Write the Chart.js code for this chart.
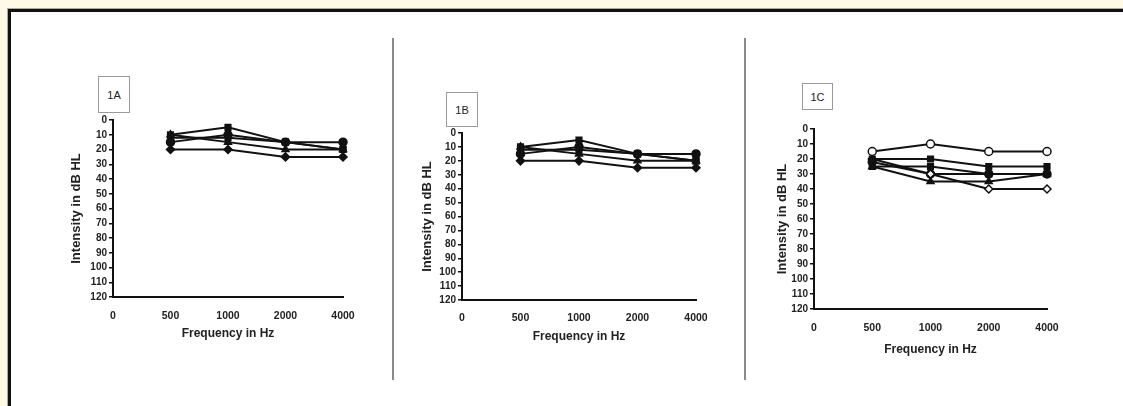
<!DOCTYPE html>
<html><head><meta charset="utf-8">
<script src="https://cdn.jsdelivr.net/npm/chart.js@4"></script>
<style>
html,body{margin:0;padding:0;width:1123px;height:406px;overflow:hidden;background:#fffae6;}
#frame{position:absolute;left:8px;top:9px;width:1200px;height:500px;background:#fff;border-left:3px solid #111;border-top:3px solid #111;box-shadow:-1px -1px 0 #aaa;}
.sep{position:absolute;width:2px;background:#8a8a8a;top:38px;height:342px;}
.lbl{position:absolute;border:1px solid #9a9a9a;background:#fff;font:11px "Liberation Sans",Arial,sans-serif;color:#222;display:flex;align-items:center;justify-content:center;box-sizing:border-box;}
canvas{position:absolute;}
</style></head>
<body>
<div id="frame"></div>
<div class="sep" style="left:392px"></div>
<div class="sep" style="left:744px"></div>
<canvas id="cA"></canvas>
<canvas id="cB"></canvas>
<canvas id="cC"></canvas>
<div class="lbl" style="left:98px;top:76px;width:32px;height:37px">1A</div>
<div class="lbl" style="left:446px;top:92px;width:32px;height:35px">1B</div>
<div class="lbl" style="left:802px;top:83px;width:31px;height:27px">1C</div>
<script>
// ---- data ----
const frequencies = ['500', '1000', '2000', '4000'];
const xTickLabels = ['0', '500', '1000', '2000', '4000'];

const a1 = [10, 5, 15, 20];
const a2 = [15, 10, 15, 15];
const a3 = [10, 15, 20, 20];
const a4 = [20, 20, 25, 25];
const a5 = [12, 12, 15, 20];

const b1 = [10, 5, 15, 20];
const b2 = [15, 10, 15, 15];
const b3 = [10, 15, 20, 20];
const b4 = [20, 20, 25, 25];
const b5 = [12, 12, 15, 20];

const c1 = [15, 10, 15, 15];
const c2 = [20, 20, 25, 25];
const c3 = [25, 25, 30, 30];
const c4 = [20, 30, 40, 40];
const c5 = [25, 35, 35, 30];
const c6 = [22, 30, 30, 30];

const FAM = '"Liberation Sans", Arial, sans-serif';

function ds(values, style, open) {
  return {
    data: frequencies.map((f, i) => ({x: f, y: values[i]})),
    borderColor: '#111', borderWidth: 2, tension: 0, fill: false,
    pointStyle: style, pointRadius: 4,
    pointBackgroundColor: open ? '#fff' : '#111',
    pointBorderColor: '#111', pointBorderWidth: 1.5
  };
}

function makeChart(id, g, datasets) {
  const cv = document.getElementById(id);
  cv.style.left = g.left + 'px'; cv.style.top = g.top + 'px';
  cv.width = g.w; cv.height = g.h;
  cv.style.width = g.w + 'px'; cv.style.height = g.h + 'px';
  new Chart(cv.getContext('2d'), {
    type: 'line',
    data: {labels: xTickLabels, datasets: datasets},
    options: {
      responsive: false, animation: false, events: [],
      plugins: {legend: {display: false}, tooltip: {enabled: false}},
      layout: {padding: {left: 0, right: g.pr, top: g.pt, bottom: 0}},
      scales: {
        x: {
          type: 'category', offset: false,
          grid: {display: false},
          border: {display: true, color: '#111', width: 2},
          ticks: {padding: g.xPad, color: '#222', autoSkip: false, maxRotation: 0,
                  font: {family: FAM, size: 10.5, weight: 'bold'}},
          title: {display: true, text: 'Frequency in Hz', color: '#222', padding: 0,
                  font: {family: FAM, size: 12, weight: 'bold'}},
          afterFit: s => { s.height = g.xh; }
        },
        y: {
          reverse: true, min: 0, max: 120,
          grid: {display: true, drawOnChartArea: false, drawTicks: true, tickLength: 4, color: '#111', lineWidth: 1.5},
          border: {display: true, color: '#111', width: 2},
          ticks: {stepSize: 10, padding: 2, color: '#222', autoSkip: false,
                  font: {family: FAM, size: 10, weight: 'bold'}},
          title: {display: true, text: 'Intensity in dB HL', color: '#222', padding: 0,
                  font: {family: FAM, size: 13, weight: 'bold'}},
          afterFit: s => { s.width = g.yw; }
        }
      }
    }
  });
}

// geometry: axis x, top(0), bottom(120), right(4000)
makeChart('cA', {left: 69, top: 110, w: 294, h: 231, pr: 20, pt: 10, yw: 44, xh: 44, xPad: 5}, [
  ds(a1, 'rect'), ds(a2, 'circle'), ds(a3, 'triangle'), ds(a4, 'rectRot'), ds(a5, 'rect')
]);
makeChart('cB', {left: 420, top: 123, w: 296, h: 221, pr: 20, pt: 10, yw: 42, xh: 44, xPad: 4}, [
  ds(b1, 'rect'), ds(b2, 'circle'), ds(b3, 'triangle'), ds(b4, 'rectRot'), ds(b5, 'rect')
]);
makeChart('cC', {left: 775, top: 119, w: 292, h: 238, pr: 20, pt: 10, yw: 39, xh: 48, xPad: 5}, [
  ds(c1, 'circle', true), ds(c2, 'rect'), ds(c3, 'rect'), ds(c4, 'rectRot', true), ds(c5, 'triangle'), ds(c6, 'circle')
]);
</script>
</body></html>
